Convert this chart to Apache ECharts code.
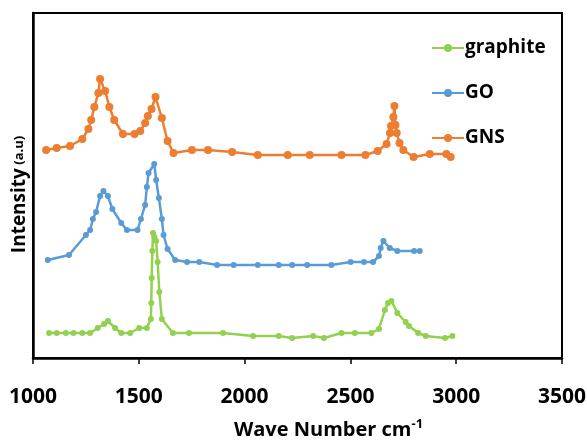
<!DOCTYPE html>
<html>
<head>
<meta charset="utf-8">
<script src="https://cdn.jsdelivr.net/npm/echarts@6/dist/echarts.min.js"></script>
<style>html,body{margin:0;padding:0;background:#fff}#c{width:587px;height:441px}</style>
</head>
<body>
<div id="c"></div>
<script>
// Wave numbers (cm-1) and intensities (a.u., arbitrary offset units)
const graphiteX = [1076,1112,1155,1191,1233,1270,1306,1336,1354,1388,1417,1459,1502,1538,1557,1559,1561,1564,1567,1574,1582,1589,1597,1609,1661,1737,1898,2040,2161,2225,2324,2375,2458,2521,2599,2635,2663,2678,2694,2722,2761,2777,2820,2856,2947,2982];
const graphiteY = [25,25,25,25,25,25,30,34,37,30,25,25,30,30,39,55,80,107,125,121,117,96,66,39,25,25,25,22,22,20,22,20,25,25,25,29,48,55,57,45,36,32,25,22,20,22];

const goX = [1070,1170,1250,1270,1283,1298,1317,1333,1354,1375,1417,1444,1494,1510,1530,1538,1546,1573,1582,1595,1609,1617,1636,1672,1728,1786,1870,1948,2062,2161,2225,2296,2410,2501,2564,2607,2635,2643,2656,2686,2722,2801,2828];
const goY = [98,103,123,128,139,146,162,167,162,149,135,128,128,139,153,171,185,194,178,160,139,123,109,98,96,96,93,93,93,93,93,93,93,96,96,96,102,110,117,110,107,107,107];

const gnsX = [1062,1112,1175,1233,1262,1275,1290,1309,1317,1341,1361,1384,1425,1480,1507,1530,1543,1560,1579,1609,1636,1664,1751,1827,1941,2062,2204,2308,2458,2571,2629,2671,2687,2692,2703,2708,2713,2719,2732,2750,2799,2875,2954,2974];
const gnsY = [208,210,212,219,229,238,251,265,279,267,251,238,224,224,227,235,242,249,261,240,217,205,208,208,206,203,203,203,203,203,207,214,225,232,241,252,233,225,215,208,201,204,204,201];

const xTicks = [1000,1500,2000,2500,3000,3500];
const seriesNames = ['graphite','GO','GNS'];

const zip = (xs, ys) => xs.map((x, i) => [x, ys[i]]);

const chart = echarts.init(document.getElementById('c'), null, {renderer:'canvas'});
const FONT = 'Open Sans';
chart.setOption({
  animation: false,
  backgroundColor: '#fff',
  grid: {left: 33, right: 25, top: 13, bottom: 83, outerBoundsMode: 'none', containLabel: false,
         show: true, borderColor: '#000', borderWidth: 2, backgroundColor: 'transparent'},
  legend: {
    orient: 'vertical', left: 426, top: 33,
    data: seriesNames,
    itemWidth: 32, itemHeight: 10, itemGap: 25,
    textStyle: {fontFamily: FONT, fontWeight: 'bold', fontSize: 19, color: '#000', lineHeight: 20, padding: [0,0,0,-4]}
  },
  xAxis: {
    type: 'value', min: xTicks[0], max: xTicks[xTicks.length-1], interval: 500,
    axisLine: {show: true, lineStyle: {color: '#000', width: 2.5}},
    axisTick: {show: true, length: 6, lineStyle: {color: '#000', width: 1.5}},
    splitLine: {show: false},
    axisLabel: {fontFamily: FONT, fontWeight: 'bold', fontSize: 21, color: '#000', margin: 29,
                formatter: v => String(v)},
    name: '{a|Wave Number cm}{s|-1}',
    nameLocation: 'middle', nameGap: 61,
    nameTextStyle: {
      padding: [0,0,0,62],
      rich: {
        a: {fontFamily: FONT, fontWeight: 'bold', fontSize: 20, color: '#000', lineHeight: 22},
        s: {fontFamily: FONT, fontWeight: 'bold', fontSize: 13, color: '#000', lineHeight: 22, padding: [0,0,12,0]}
      }
    }
  },
  yAxis: {
    type: 'value', min: 0, max: 345,
    axisLine: {show: true, lineStyle: {color: '#000', width: 2.5}},
    axisTick: {show: false}, axisLabel: {show: false}, splitLine: {show: false},
    name: '{a|Intensity} {b|(a.u)}',
    nameLocation: 'middle', nameGap: 4, nameRotate: 90,
    nameTextStyle: {
      padding: [0,18,0,0],
      rich: {
        a: {fontFamily: FONT, fontWeight: 'bold', fontSize: 19, color: '#000'},
        b: {fontFamily: FONT, fontWeight: 'bold', fontSize: 13, color: '#000'}
      }
    }
  },
  series: [
    {name: seriesNames[0], type: 'line', data: zip(graphiteX, graphiteY), symbol: 'circle', symbolSize: 6,
     itemStyle: {color: '#92D050'}, lineStyle: {color: '#92D050', width: 2.5}},
    {name: seriesNames[1], type: 'line', data: zip(goX, goY), symbol: 'circle', symbolSize: 6,
     itemStyle: {color: '#5B9BD5'}, lineStyle: {color: '#5B9BD5', width: 2.5}},
    {name: seriesNames[2], type: 'line', data: zip(gnsX, gnsY), symbol: 'circle', symbolSize: 8,
     itemStyle: {color: '#ED7D31'}, lineStyle: {color: '#ED7D31', width: 2.5}}
  ]
});
</script>
</body>
</html>
